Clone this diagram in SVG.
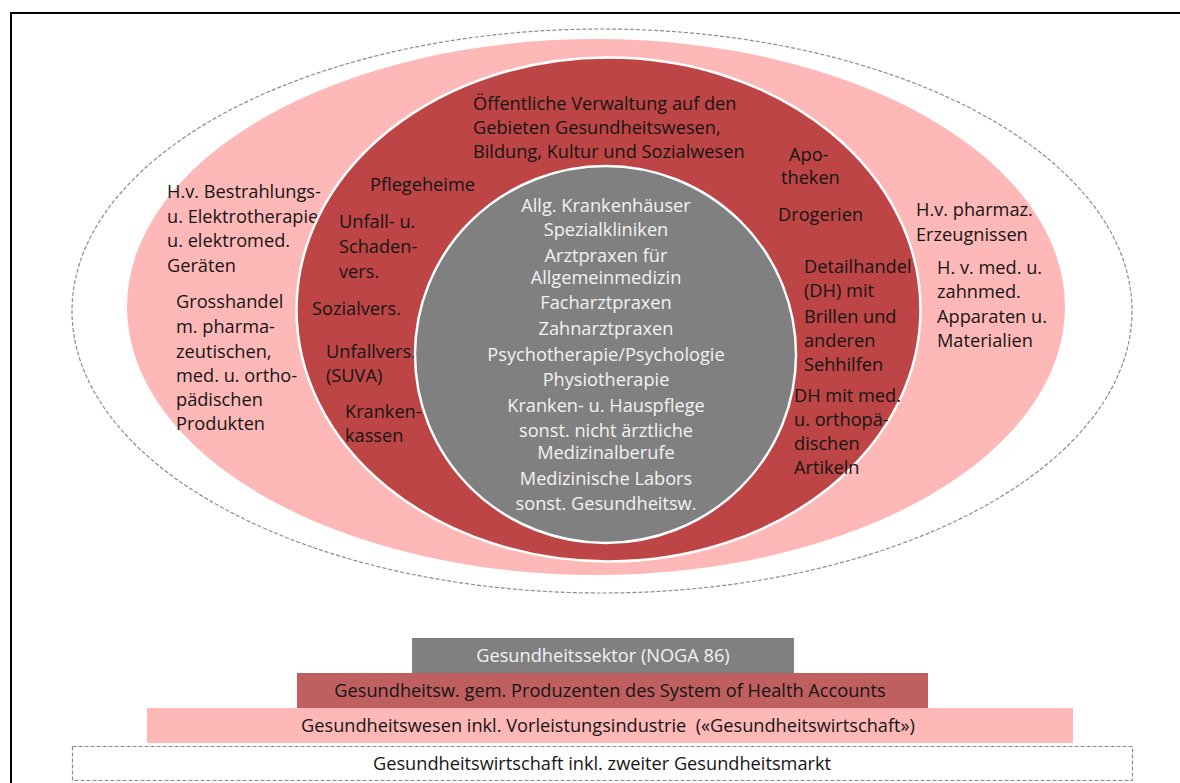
<svg xmlns="http://www.w3.org/2000/svg" width="1180" height="783" viewBox="0 0 1180 783">
<style>
text{font-family:"Open Sans","Noto Sans","DejaVu Sans",sans-serif;font-size:18.2px;fill:#151515}
.w{fill:#f2f2f2}
.c{text-anchor:middle}
.dash{fill:none;stroke:#8c8c8c;stroke-width:1.2;stroke-dasharray:4 2}
</style>
<rect x="0" y="0" width="1180" height="783" fill="#ffffff"/>
<rect id="frame" x="11" y="13" width="1190" height="800" fill="none" stroke="#000" stroke-width="2"/>
<g id="ring-outer"><ellipse cx="602" cy="311" rx="530" ry="282" class="dash"/></g>
<g id="ring-pink">
<ellipse cx="596" cy="307" rx="469" ry="268" fill="#ffb8b8"/>
<text x="167" y="198">H.v. Bestrahlungs-</text>
<text x="167" y="223">u. Elektrotherapie-</text>
<text x="167" y="247">u. elektromed.</text>
<text x="167" y="272">Geräten</text>
<text x="176" y="308">Grosshandel</text>
<text x="176" y="333">m. pharma-</text>
<text x="176" y="358">zeutischen,</text>
<text x="176" y="382">med. u. ortho-</text>
<text x="176" y="406">pädischen</text>
<text x="176" y="430">Produkten</text>
<text x="916" y="216">H.v. pharmaz.</text>
<text x="916" y="241">Erzeugnissen</text>
<text x="937" y="274">H. v. med. u.</text>
<text x="937" y="298">zahnmed.</text>
<text x="937" y="323">Apparaten u.</text>
<text x="937" y="347">Materialien</text>
</g>
<g id="ring-red">
<ellipse cx="608.5" cy="309.5" rx="312" ry="252" fill="#be4545" stroke="#fff" stroke-width="2.5"/>
<text x="473" y="110">Öffentliche Verwaltung auf den</text>
<text x="473" y="134">Gebieten Gesundheitswesen,</text>
<text x="473" y="158">Bildung, Kultur und Sozialwesen</text>
<text x="370" y="191">Pflegeheime</text>
<text x="339" y="228">Unfall- u.</text>
<text x="339" y="253">Schaden-</text>
<text x="339" y="278">vers.</text>
<text x="312" y="315">Sozialvers.</text>
<text x="326" y="358">Unfallvers.</text>
<text x="326" y="382">(SUVA)</text>
<text x="345" y="418">Kranken-</text>
<text x="345" y="442">kassen</text>
<text x="789" y="161">Apo-</text>
<text x="781" y="184">theken</text>
<text x="778" y="221">Drogerien</text>
<text x="804" y="273">Detailhandel</text>
<text x="804" y="297">(DH) mit</text>
<text x="804" y="323">Brillen und</text>
<text x="804" y="347">anderen</text>
<text x="804" y="371">Sehhilfen</text>
<text x="794" y="402">DH mit med.</text>
<text x="794" y="426">u. orthopä-</text>
<text x="794" y="450">dischen</text>
<text x="794" y="474">Artikeln</text>
</g>
<g id="core">
<ellipse cx="605.5" cy="354.5" rx="190.5" ry="188.5" fill="#808080" stroke="#fff" stroke-width="2.5"/>
<text class="w c" x="606" y="212">Allg. Krankenhäuser</text>
<text class="w c" x="606" y="236">Spezialkliniken</text>
<text class="w c" x="606" y="262">Arztpraxen für</text>
<text class="w c" x="606" y="284">Allgemeinmedizin</text>
<text class="w c" x="606" y="309">Facharztpraxen</text>
<text class="w c" x="606" y="335">Zahnarztpraxen</text>
<text class="w c" x="606" y="361">Psychotherapie/Psychologie</text>
<text class="w c" x="606" y="386">Physiotherapie</text>
<text class="w c" x="606" y="412">Kranken- u. Hauspflege</text>
<text class="w c" x="606" y="437">sonst. nicht ärztliche</text>
<text class="w c" x="606" y="459">Medizinalberufe</text>
<text class="w c" x="606" y="485">Medizinische Labors</text>
<text class="w c" x="606" y="510">sonst. Gesundheitsw.</text>
</g>
<g id="legend">
<g id="bar-gray"><rect x="412" y="638" width="382" height="35" fill="#808080"/><text class="w c" x="603" y="662">Gesundheitssektor (NOGA 86)</text></g>
<g id="bar-red"><rect x="297" y="673" width="631" height="35" fill="#c05f5f"/><text class="c" x="610" y="697">Gesundheitsw. gem. Produzenten des System of Health Accounts</text></g>
<g id="bar-pink"><rect x="147" y="708" width="926" height="35" fill="#ffb8b8"/><text class="c" x="608" y="732">Gesundheitswesen inkl. Vorleistungsindustrie &#160;(«Gesundheitswirtschaft»)</text></g>
<g id="bar-dashed"><rect x="72.5" y="746.5" width="1060" height="34" fill="#fff" class="dash" style="fill:#fff"/><text class="c" x="602" y="770">Gesundheitswirtschaft inkl. zweiter Gesundheitsmarkt</text></g>
</g>
</svg>
